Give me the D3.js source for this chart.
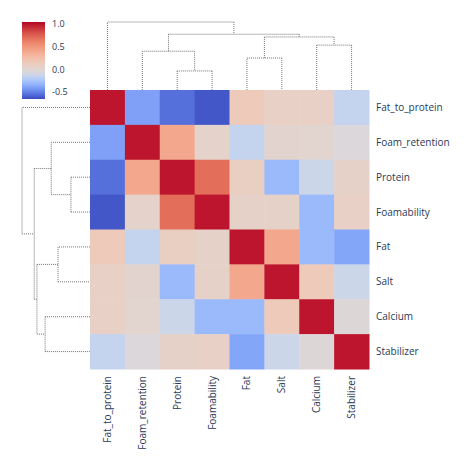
<!DOCTYPE html>
<html><head><meta charset="utf-8">
<script src="https://cdn.jsdelivr.net/npm/d3@7"></script>
<style>body{margin:0;background:#fff}text{font-family:"Open Sans",sans-serif;fill:#2b3a55}</style>
</head><body><svg></svg>
<script>
const names = ["Fat_to_protein","Foam_retention","Protein","Foamability","Fat","Salt","Calcium","Stabilizer"];
const corr = [
  [1, -0.4, -0.55, -0.62, 0.15, 0.08, 0.08, -0.15],
  [-0.4, 1, 0.4, 0.05, -0.15, 0.03, 0.02, -0.05],
  [-0.55, 0.4, 1, 0.7, 0.1, -0.3, -0.12, 0.06],
  [-0.62, 0.05, 0.7, 1, 0.06, 0.06, -0.3, 0.08],
  [0.15, -0.15, 0.1, 0.06, 1, 0.4, -0.3, -0.38],
  [0.08, 0.03, -0.3, 0.06, 0.4, 1, 0.15, -0.12],
  [0.08, 0.02, -0.12, -0.3, -0.3, 0.15, 1, -0.03],
  [-0.15, -0.05, 0.06, 0.08, -0.38, -0.12, -0.03, 1]
];
// linkage: [left, right, height]; leaves 0..7, clusters 8..
const linkage = [[2,3,0.28],[4,5,0.47],[1,8,0.57],[6,7,0.66],[9,11,0.78],[10,12,0.82],[0,13,1.0]];
const cbarTicks = [1.0, 0.5, 0.0, -0.5];

const svg = d3.select("svg").attr("width",469).attr("height",458);
const x0 = 90, size = 279;
const band = d3.scaleBand().domain(d3.range(8)).range([x0, x0+size]);
const coolwarm = d3.interpolateRgbBasis(["#3b4cc0","#6282ea","#8db0fe","#b8d0f9","#dddddd","#f5c4ad","#f49a7b","#de604d","#b40426"]);
const norm = d3.scaleLinear().domain([-0.65,-0.05,1.05]).range([0,0.5,1]).clamp(true);
const color = v => coolwarm(norm(v));

const g = svg.append("g");
corr.forEach((row,i)=>row.forEach((v,j)=>{
  g.append("rect").attr("x",band(j)).attr("y",band(i))
   .attr("width",band.bandwidth()+0.5).attr("height",band.bandwidth()+0.5).attr("fill",color(v));
}));

// labels
names.forEach((n,i)=>{
  svg.append("text").attr("x",x0+size+7).attr("y",band(i)+band.bandwidth()/2).attr("dy","0.35em")
    .attr("font-size",10).text(n);
  svg.append("text").attr("transform",`translate(${band(i)+band.bandwidth()/2},${x0+size+7}) rotate(-90)`)
    .attr("text-anchor","end").attr("dy","0.35em").attr("font-size",10).text(n);
});

// dendrograms
const hScale = d3.scaleLinear().domain([0,1]).range([x0,22]);
const pos = d3.range(8).map(i=>band(i)+band.bandwidth()/2);
const hts = d3.range(8).map(()=>0);
const segs = [];
linkage.forEach(([a,b,h])=>{
  segs.push([pos[a],hts[a],pos[a],h],[pos[a],h,pos[b],h],[pos[b],h,pos[b],hts[b]]);
  pos.push((pos[a]+pos[b])/2); hts.push(h);
});
const dstyle = s=>s.attr("stroke","#666").attr("stroke-width",0.9).attr("stroke-dasharray","1,1").attr("fill","none");
segs.forEach(([p1,h1,p2,h2])=>{
  dstyle(svg.append("line").attr("x1",p1).attr("y1",hScale(h1)).attr("x2",p2).attr("y2",hScale(h2)));
  dstyle(svg.append("line").attr("y1",p1).attr("x1",hScale(h1)).attr("y2",p2).attr("x2",hScale(h2)));
});

// colorbar
const cy = d3.scaleLinear().domain([-0.65,1.05]).range([99,22]);
const grad = svg.append("defs").append("linearGradient").attr("id","cb").attr("x1",0).attr("x2",0).attr("y1",1).attr("y2",0);
d3.range(0,1.001,0.05).forEach(t=>{
  const v = -0.65 + t*1.7;
  grad.append("stop").attr("offset",t).attr("stop-color",color(v));
});
svg.append("rect").attr("x",22).attr("y",22).attr("width",23).attr("height",77).attr("fill","url(#cb)");
cbarTicks.forEach(t=>{
  svg.append("text").attr("x",52).attr("y",cy(t)).attr("dy","0.35em").attr("font-size",9).text(t.toFixed(1));
});
</script></body></html>
